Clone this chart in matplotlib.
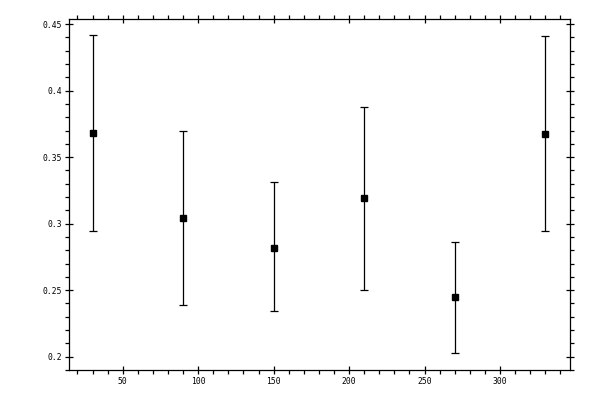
import numpy as np
import matplotlib
matplotlib.use("Agg")
import matplotlib.pyplot as plt
from matplotlib.ticker import MultipleLocator

# angles and measured values with lower / upper error bounds
x = [30, 90, 150, 210, 270, 330]
y = [0.368, 0.304, 0.282, 0.319, 0.2445, 0.367]
y_low = [0.2945, 0.2385, 0.234, 0.250, 0.2025, 0.2945]
y_high = [0.4415, 0.370, 0.331, 0.388, 0.286, 0.441]

if __name__ == "__main__":
    y_arr = np.array(y)
    yerr = [y_arr - np.array(y_low), np.array(y_high) - y_arr]

    fig = plt.figure(figsize=(6, 4), dpi=100)
    ax = fig.add_axes([69 / 600, 30 / 400, 501 / 600, 351 / 400])

    ax.errorbar(x, y, yerr=yerr, fmt="s", color="black", ms=4.8,
                elinewidth=0.9, capsize=3.2, capthick=0.9)

    ax.set_xlim(14.4, 346.4)
    ax.set_ylim(0.19, 0.4538)

    ax.xaxis.set_major_locator(MultipleLocator(50))
    ax.xaxis.set_minor_locator(MultipleLocator(10))
    ax.yaxis.set_major_locator(MultipleLocator(0.05))
    ax.yaxis.set_minor_locator(MultipleLocator(0.01))
    ax.yaxis.set_major_formatter(plt.FuncFormatter(lambda v, p: "%g" % round(v, 3)))

    ax.tick_params(which="both", top=True, right=True, width=0.9, colors="black",
                   labelsize=5.8)
    ax.tick_params(which="major", direction="inout", length=6, pad=2)
    ax.tick_params(which="minor", direction="out", length=3)
    for lab in ax.get_xticklabels() + ax.get_yticklabels():
        lab.set_family("DejaVu Sans Mono")
    for sp in ax.spines.values():
        sp.set_linewidth(0.9)

    plt.savefig("out.png", dpi=100)
